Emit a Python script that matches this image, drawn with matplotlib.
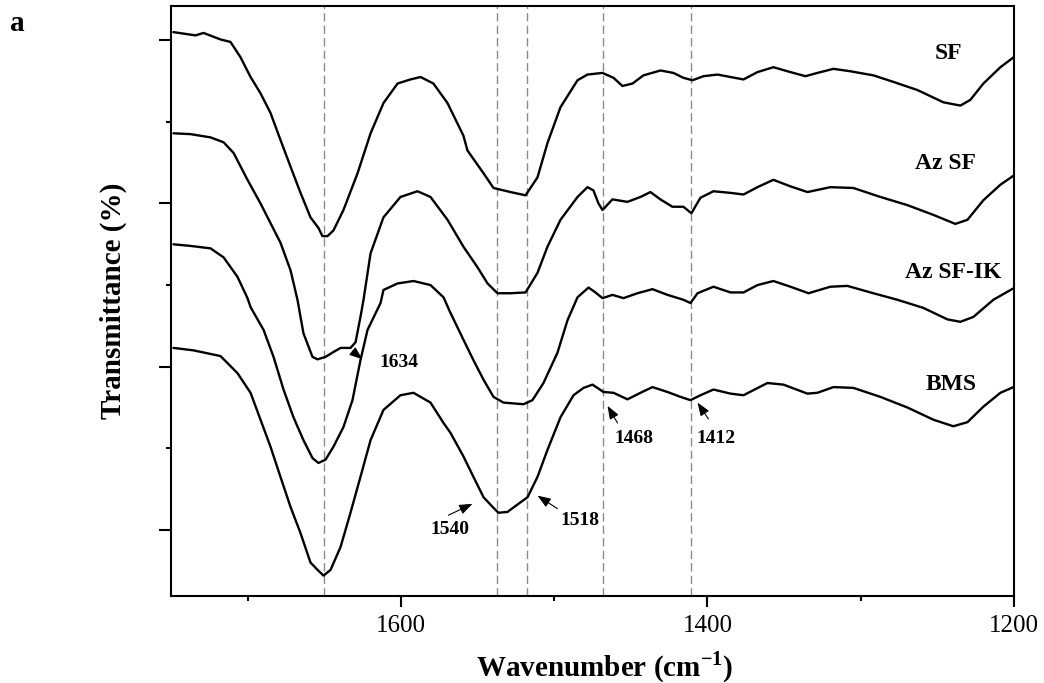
import matplotlib
matplotlib.use('Agg')
import matplotlib.pyplot as plt
from matplotlib.ticker import FixedLocator, NullFormatter

plt.rcParams['font.family'] = 'Liberation Serif'
plt.rcParams['mathtext.fontset'] = 'custom'
plt.rcParams['mathtext.rm'] = 'Liberation Serif'
plt.rcParams['mathtext.bf'] = 'Liberation Serif:bold'

# ---- spectra (wavenumber, transmittance offset) ----
sf_wn = [1748.4, 1734.0, 1728.8, 1717.7, 1711.2, 1704.6, 1698.1, 1691.6, 1685.1, 1678.6,
         1672.0, 1665.5, 1659.0, 1653.8, 1651.2, 1647.9, 1644.0, 1637.5, 1628.3, 1619.8,
         1611.4, 1602.2, 1593.8, 1587.2, 1578.8, 1569.6, 1559.2, 1556.6, 1546.1,
         1539.6, 1528.5, 1518.7, 1510.9, 1504.4, 1495.9, 1484.8, 1478.3, 1468.5, 1461.3,
         1455.5, 1448.9, 1441.8, 1430.7, 1422.2, 1415.7, 1409.8, 1402.6, 1393.5, 1385.0,
         1376.5, 1367.4, 1357.0, 1345.9, 1336.1, 1328.3, 1317.8, 1306.7, 1291.7, 1278.7,
         1263.0, 1246.1, 1235.0, 1228.5, 1220.0, 1208.9, 1200.4]
sf_t = [71.0, 70.6, 70.9, 70.1, 69.8, 67.9, 65.5, 63.5, 61.1, 57.8,
        54.5, 51.3, 48.3, 47.0, 46.0, 46.0, 46.7, 49.2, 53.7, 58.6,
        62.3, 64.7, 65.2, 65.5, 64.7, 62.3, 58.3, 56.5, 53.7,
        51.9, 51.4, 51.0, 53.2, 57.4, 61.8, 65.1, 65.8, 66.0, 65.4,
        64.4, 64.7, 65.7, 66.3, 66.0, 65.4, 65.1, 65.6, 65.8, 65.5,
        65.2, 66.1, 66.7, 66.1, 65.6, 66.0, 66.5, 66.2, 65.7, 64.9,
        63.9, 62.4, 62.0, 62.7, 64.7, 66.7, 67.9]

azsf_wn = [1748.4, 1737.3, 1724.2, 1715.7, 1709.2, 1700.1, 1691.6, 1685.1, 1678.6, 1672.0,
           1667.5, 1663.6, 1657.7, 1654.4, 1649.2, 1644.0, 1639.4, 1632.9, 1629.6, 1626.4,
           1624.4, 1619.8, 1611.4, 1600.3, 1589.2, 1580.7, 1569.6, 1559.2, 1550.1, 1543.5,
           1537.0, 1528.5, 1518.7, 1510.9, 1504.4, 1495.9, 1484.8, 1478.3, 1474.4, 1471.1,
           1468.5, 1462.0, 1452.2, 1443.7, 1437.2, 1430.7, 1422.9, 1415.7, 1410.5, 1404.6,
           1396.1, 1385.0, 1376.5, 1367.4, 1357.0, 1345.9, 1334.8, 1319.8, 1304.8, 1287.2,
           1269.6, 1252.6, 1238.3, 1230.4, 1220.0, 1208.9, 1200.4]
azsf_t = [58.6, 58.5, 58.1, 57.5, 56.2, 52.9, 50.0, 47.6, 45.2, 41.8,
          38.2, 34.1, 31.2, 30.9, 31.2, 31.8, 32.3, 32.3, 33.0, 36.1,
          38.2, 43.9, 48.3, 50.8, 51.5, 50.8, 48.0, 44.7, 42.2, 40.2,
          39.0, 39.0, 39.1, 41.5, 44.7, 48.0, 50.8, 52.0, 51.6, 50.0,
          49.2, 50.5, 50.2, 50.8, 51.4, 50.5, 49.6, 49.6, 48.8, 50.7,
          51.5, 51.3, 51.1, 52.0, 52.9, 52.1, 51.4, 52.0, 51.9, 50.8,
          49.8, 48.6, 47.5, 48.0, 50.4, 52.3, 53.4]

azik_wn = [1748.4, 1737.3, 1724.2, 1715.7, 1706.6, 1700.1, 1698.1, 1689.6, 1683.1, 1676.6,
           1670.1, 1663.6, 1657.7, 1653.8, 1649.2, 1644.0, 1637.5, 1631.6, 1626.4, 1621.8,
           1613.3, 1611.4, 1602.2, 1591.8, 1580.7, 1572.2, 1567.7, 1559.2, 1552.7, 1546.1,
           1539.6, 1533.1, 1520.0, 1514.2, 1507.0, 1497.9, 1491.3, 1484.8, 1477.6, 1473.1,
           1468.5, 1462.0, 1454.8, 1445.7, 1435.9, 1426.1, 1415.7, 1411.1, 1406.5, 1396.1,
           1385.0, 1376.5, 1367.4, 1357.0, 1345.9, 1334.1, 1319.8, 1308.7, 1293.7, 1276.1,
           1259.1, 1243.5, 1235.0, 1226.5, 1213.5, 1200.4]
azik_t = [45.0, 44.8, 44.5, 43.4, 41.0, 38.4, 37.3, 34.5, 31.2, 27.2,
          23.8, 21.0, 18.8, 18.2, 18.6, 20.2, 22.6, 25.9, 30.8, 34.5,
          37.8, 39.4, 40.2, 40.5, 40.0, 38.5, 36.6, 33.3, 30.8, 28.4,
          26.3, 25.6, 25.4, 25.9, 28.0, 31.7, 35.7, 38.5, 39.7, 39.1,
          38.4, 38.8, 38.4, 39.0, 39.5, 38.8, 38.2, 37.8, 39.0, 39.8,
          39.1, 39.1, 40.0, 40.5, 39.8, 39.0, 39.8, 39.9, 39.1, 38.2,
          37.2, 35.8, 35.5, 36.1, 38.2, 39.6]

bms_wn = [1748.4, 1735.3, 1717.7, 1706.6, 1698.1, 1691.6, 1685.1, 1678.6, 1672.0, 1665.5,
          1659.0, 1654.4, 1650.5, 1645.9, 1639.4, 1632.9, 1626.4, 1619.8, 1611.4, 1600.3,
          1591.8, 1580.7, 1572.2, 1567.7, 1559.2, 1552.7, 1546.1, 1539.6, 1536.4, 1530.5,
          1524.0, 1517.4, 1510.9, 1504.4, 1495.9, 1487.4, 1480.9, 1475.0, 1471.8, 1467.9,
          1461.3, 1452.2, 1443.7, 1435.9, 1426.1, 1417.6, 1411.1, 1404.6, 1396.1, 1385.0,
          1376.5, 1360.9, 1350.4, 1334.8, 1328.3, 1317.8, 1304.8, 1287.2, 1269.6, 1252.6,
          1239.6, 1230.4, 1220.0, 1208.9, 1200.4]
bms_t = [32.3, 32.0, 31.3, 29.2, 26.8, 23.5, 20.2, 16.5, 12.8, 9.6,
         6.0, 5.1, 4.4, 5.1, 7.9, 12.1, 16.5, 21.0, 24.7, 26.5,
         26.8, 25.6, 23.1, 21.9, 19.0, 16.5, 14.0, 12.7, 12.1, 12.2,
         13.1, 14.0, 16.5, 19.8, 23.8, 26.5, 27.4, 27.8, 27.4, 26.9,
         26.8, 26.0, 26.8, 27.5, 26.9, 26.3, 25.9, 26.5, 27.2, 26.7,
         26.5, 28.0, 27.8, 26.7, 26.8, 27.5, 27.4, 26.3, 25.0, 23.5,
         22.7, 23.2, 25.1, 26.8, 27.5]

series = [("SF", sf_wn, sf_t), ("Az SF", azsf_wn, azsf_t),
          ("Az SF-IK", azik_wn, azik_t), ("BMS", bms_wn, bms_t)]

# reference lines and marked bands
ref_lines = [1650, 1537, 1518, 1468, 1411]
peak_labels = ["1634", "1540", "1518", "1468", "1412"]

# ===========================
# figure
# ===========================
fig = plt.figure(figsize=(10.44, 6.83), dpi=100)
ax = fig.add_axes([0.1638, 0.1274, 0.8075, 0.8638])

for wl in ref_lines:
    ax.axvline(wl, color='#8a8a8a', lw=1.0, linestyle=(0, (6, 3)), zorder=1)

for name, wn, t in series:
    ax.plot(wn, t, color='black', lw=1.7, zorder=3,
            solid_joinstyle='round', solid_capstyle='round')

# curve names
name_pos = {"SF": (1243, 68.4), "Az SF": (1245, 54.9),
            "Az SF-IK": (1240, 41.5), "BMS": (1241, 27.8)}
for name, _, _ in series:
    x, y = name_pos[name]
    ax.text(x, y, name, ha='center', va='center', fontsize=17, fontweight='bold')

# peak annotations: (text pos, arrow tail, arrow head)
ann = [((1601.6, 30.5), (1631.6, 31.9), (1625.1, 30.9)),
       ((1568.3, 10.0), (1569.0, 11.8), (1553.3, 13.2)),
       ((1483.5, 11.1), (1497.9, 12.6), (1510.9, 14.2)),
       ((1448.3, 21.2), (1458.7, 23.1), (1465.2, 25.2)),
       ((1394.2, 21.2), (1399.4, 23.6), (1406.5, 25.6))]
for lab, (tpos, tail, head) in zip(peak_labels, ann):
    ax.text(tpos[0], tpos[1], lab, ha='center', va='center', fontsize=14, fontweight='bold')
    ax.annotate('', xy=head, xytext=tail,
                arrowprops=dict(arrowstyle='-|>,head_length=0.8,head_width=0.3',
                                color='black', lw=0.8, shrinkA=0, shrinkB=0,
                                mutation_scale=10),
                zorder=4)

ax.set_xlim(1750, 1200)
ax.set_ylim(1.9, 74.2)

ax.xaxis.set_major_locator(FixedLocator([1600, 1400, 1200]))
ax.xaxis.set_minor_locator(FixedLocator([1700, 1500, 1300]))
ax.yaxis.set_major_locator(FixedLocator([10, 30, 50, 70]))
ax.yaxis.set_minor_locator(FixedLocator([20, 40, 60]))
ax.yaxis.set_major_formatter(NullFormatter())

ax.tick_params(which='major', direction='out', length=8, width=1.5, labelsize=18, pad=6)
ax.tick_params(which='minor', direction='out', length=3.5, width=1.5)
ax.tick_params(axis='y', which='major', length=9)
for s in ax.spines.values():
    s.set_linewidth(1.5)

ax.set_xlabel('Wavenumber (cm$^{\\mathbf{-1}}$)', fontsize=21, fontweight='bold')
ax.xaxis.set_label_coords(0.514, -0.09)
ax.set_ylabel('Transmittance (%)', fontsize=21, fontweight='bold')
ax.yaxis.set_label_coords(-0.052, 0.5)

fig.text(0.017, 0.965, 'a', ha='center', va='center', fontsize=21, fontweight='bold')

plt.savefig('out.png', dpi=100)
plt.close()
